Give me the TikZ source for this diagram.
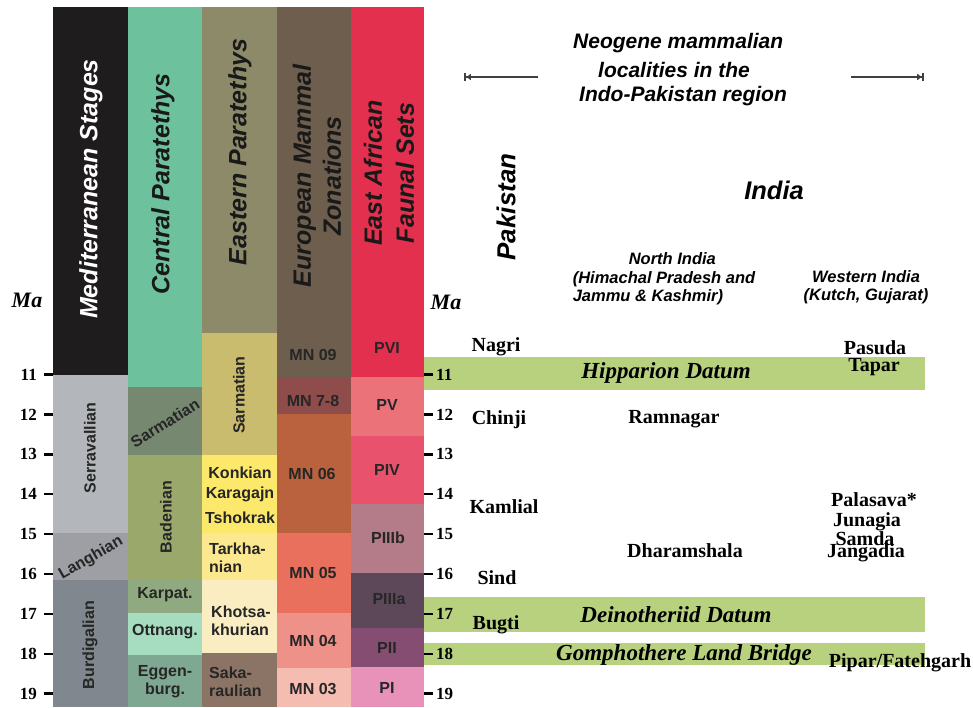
\documentclass[tikz,border=0pt]{standalone}
\usepackage{fontspec}
\setmainfont{Liberation Serif}
\setsansfont{Liberation Sans}
\usetikzlibrary{arrows.meta}

\definecolor{medblack}{HTML}{1E1C1D}
\definecolor{serrav}{HTML}{B3B6BA}
\definecolor{langh}{HTML}{9D9FA4}
\definecolor{burdig}{HTML}{81878E}
\definecolor{cteal}{HTML}{6DC29D}
\definecolor{csarm}{HTML}{778870}
\definecolor{baden}{HTML}{9AA86C}
\definecolor{karpat}{HTML}{8FAA80}
\definecolor{ottn}{HTML}{A6DCC0}
\definecolor{eggen}{HTML}{7EA891}
\definecolor{ehead}{HTML}{8C8A68}
\definecolor{esarm}{HTML}{C9BC6E}
\definecolor{konk}{HTML}{FCE96B}
\definecolor{tarkh}{HTML}{FBE88F}
\definecolor{khots}{HTML}{F9EDC1}
\definecolor{sakar}{HTML}{8B7465}
\definecolor{mnhead}{HTML}{6D5E4D}
\definecolor{mnsev}{HTML}{8E4C4A}
\definecolor{mnsix}{HTML}{B9623D}
\definecolor{mnfive}{HTML}{E9705D}
\definecolor{mnfour}{HTML}{EE9189}
\definecolor{mnthree}{HTML}{F5BDB1}
\definecolor{pvi}{HTML}{E3304F}
\definecolor{pv}{HTML}{EC727A}
\definecolor{piv}{HTML}{E9526D}
\definecolor{piiib}{HTML}{B47B89}
\definecolor{piiia}{HTML}{5D4859}
\definecolor{pii}{HTML}{854D71}
\definecolor{pi}{HTML}{E892B9}
\definecolor{datumgreen}{HTML}{B8D17F}

\begin{document}
\begin{tikzpicture}[x=1pt,y=-1pt]
	\tikzstyle{head} = [font=\sffamily\bfseries\itshape\fontsize{25}{30}\selectfont, text=black!90, align=center, rotate=90, inner sep=0pt]
	\tikzstyle{cell} = [font=\sffamily\bfseries\fontsize{16}{18}\selectfont, text=black!85, align=center, inner sep=0pt]
	\tikzstyle{maTick} = [line width=2.5pt]
	\tikzstyle{num} = [font=\bfseries\fontsize{17}{19}\selectfont, inner sep=0pt]
	\tikzstyle{ma} = [font=\bfseries\itshape\fontsize{22}{24}\selectfont, inner sep=0pt]
	\tikzstyle{site} = [font=\bfseries\fontsize{20}{22}\selectfont, inner sep=0pt]
	\tikzstyle{datum} = [font=\bfseries\itshape\fontsize{23}{25}\selectfont, inner sep=0pt]
	\tikzstyle{region} = [font=\sffamily\bfseries\itshape\fontsize{16.5}{18.5}\selectfont, align=center, inner sep=0pt]
	\tikzstyle{title} = [font=\sffamily\bfseries\itshape\fontsize{21}{26}\selectfont, anchor=west, inner sep=0pt]
	\tikzstyle{line} = [draw=black!75, line width=2.2pt]

	\useasboundingbox (0,0) rectangle (973,707);

	% Mediterranean stages
	\fill[medblack] (53,7) rectangle (128,375);
	\fill[serrav] (53,375) rectangle (128,533);
	\fill[langh] (53,533) rectangle (128,580);
	\fill[burdig] (53,580) rectangle (128,707);
	% Central Paratethys
	\fill[cteal] (128,7) rectangle (202,387);
	\fill[csarm] (128,387) rectangle (202,455);
	\fill[baden] (128,455) rectangle (202,580);
	\fill[karpat] (128,580) rectangle (202,613);
	\fill[ottn] (128,613) rectangle (202,655);
	\fill[eggen] (128,655) rectangle (202,707);
	% Eastern Paratethys
	\fill[ehead] (202,7) rectangle (277,333);
	\fill[esarm] (202,333) rectangle (277,455);
	\fill[konk] (202,455) rectangle (277,533);
	\fill[tarkh] (202,533) rectangle (277,580);
	\fill[khots] (202,580) rectangle (277,653);
	\fill[sakar] (202,653) rectangle (277,707);
	% European mammal zones
	\fill[mnhead] (277,7) rectangle (351,377);
	\fill[mnsev] (277,377) rectangle (351,414);
	\fill[mnsix] (277,414) rectangle (351,533);
	\fill[mnfive] (277,533) rectangle (351,613);
	\fill[mnfour] (277,613) rectangle (351,668);
	\fill[mnthree] (277,668) rectangle (351,707);
	% East African faunal sets
	\fill[pvi] (351,7) rectangle (424,377);
	\fill[pv] (351,377) rectangle (424,436);
	\fill[piv] (351,436) rectangle (424,504);
	\fill[piiib] (351,504) rectangle (424,573);
	\fill[piiia] (351,573) rectangle (424,628);
	\fill[pii] (351,628) rectangle (424,667);
	\fill[pi] (351,667) rectangle (424,707);

	% datum bands
	\fill[datumgreen] (424,357) rectangle (925,390);
	\fill[datumgreen] (424,597) rectangle (925,632);
	\fill[datumgreen] (424,643) rectangle (925,665);

	\node [head, text=white] (MedStages) at (91,189) {Mediterranean Stages};
	\node [head] (CentPara) at (163,184) {Central Paratethys};
	\node [head] (EastPara) at (240,152) {Eastern Paratethys};
	\node [head] (EuroZones) at (317,176) {European Mammal\\Zonations};
	\node [head, font=\sffamily\bfseries\itshape\fontsize{25}{32}\selectfont] (AfrSets) at (389,173) {East African\\Faunal Sets};

	\node [cell, rotate=90] (Serrav) at (90,448) {Serravallian};
	\node [cell, rotate=30] (Langh) at (91,558) {Langhian};
	\node [cell, rotate=90] (Burdig) at (90,645) {Burdigalian};
	\node [cell, rotate=32] (CSarm) at (165,423) {Sarmatian};
	\node [cell, rotate=90] (Baden) at (166,517) {Badenian};
	\node [cell] (Karpat) at (165,595) {Karpat.};
	\node [cell] (Ottnang) at (165,632) {Ottnang.};
	\node [cell] (Eggen) at (165,682) {Eggen-\\burg.};
	\node [cell, rotate=90] (ESarm) at (239,395) {Sarmatian};
	\node [cell] (Konkian) at (240,473) {Konkian};
	\node [cell] (Karagajn) at (240,494) {Karagajn};
	\node [cell] (Tshokrak) at (240,518) {Tshokrak};
	\node [cell, align=left, anchor=west] (Tarkh) at (209,558) {Tarkha-\\nian};
	\node [cell, align=left, anchor=west] (Khots) at (211,621) {Khotsa-\\khurian};
	\node [cell, align=left, anchor=west] (Sakar) at (209,682) {Saka-\\raulian};
	\node [cell] (MNnine) at (313,355) {MN 09};
	\node [cell] (MNseven) at (313,401) {MN 7-8};
	\node [cell] (MNsix) at (312,474) {MN 06};
	\node [cell] (MNfive) at (313,573) {MN 05};
	\node [cell] (MNfour) at (313,641) {MN 04};
	\node [cell] (MNthree) at (313,689) {MN 03};
	\node [cell] (PVI) at (387,348) {PVI};
	\node [cell] (PV) at (387,405) {PV};
	\node [cell] (PIV) at (387,470) {PIV};
	\node [cell] (PIIIb) at (388,538) {PIIIb};
	\node [cell] (PIIIa) at (389,599) {PIIIa};
	\node [cell] (PII) at (387,648) {PII};
	\node [cell] (PI) at (387,688) {PI};

	% Ma scales
	\node [ma] (MaLeft) at (27,300) {Ma};
	\node [ma] (MaRight) at (446,302) {Ma};
	\foreach \m in {11,...,19} {
		\draw [maTick] (44,{374.5+39.9*(\m-11)}) -- (53,{374.5+39.9*(\m-11)});
		\node [num, anchor=east] (lma\m) at (37,{374.5+39.9*(\m-11)}) {\m};
		\draw [maTick] (424,{374.5+39.9*(\m-11)}) -- (433,{374.5+39.9*(\m-11)});
		\node [num, anchor=west] (rma\m) at (436,{374.5+39.9*(\m-11)}) {\m};
	}

	% title and regions
	\node [title] (TitleA) at (573,43) {Neogene mammalian};
	\node [title] (TitleB) at (598,70) {localities in the};
	\node [title] (TitleC) at (579,96) {Indo-Pakistan region};
	\coordinate (LArrowEnd) at (464,77);
	\coordinate (LArrowStart) at (538,77);
	\coordinate (RArrowStart) at (851,77);
	\coordinate (RArrowEnd) at (924,77);
	\path [line, {Bar[width=8pt,line width=1.8pt]Latex[length=5pt,width=7pt]}-] (LArrowEnd) -- (LArrowStart);
	\path [line, -{Latex[length=5pt,width=7pt]Bar[width=8pt,line width=1.8pt]}] (RArrowStart) -- (RArrowEnd);

	\node [head, text=black, font=\sffamily\bfseries\itshape\fontsize{26}{30}\selectfont] (Pakistan) at (506,207) {Pakistan};
	\node [font=\sffamily\bfseries\itshape\fontsize{25.5}{30}\selectfont, inner sep=0pt] (India) at (774,190) {India};
	\node [region, align=left] (NorthIndia) at (664,279) {\hspace*{56pt}North India\\(Himachal Pradesh and\\Jammu \& Kashmir)};
	\node [region] (WestIndia) at (866,287) {Western India\\(Kutch, Gujarat)};

	% localities
	\node [site] (Nagri) at (496,347) {Nagri};
	\node [site] (Chinji) at (499,420) {Chinji};
	\node [site] (Kamlial) at (504,507) {Kamlial};
	\node [site] (Sind) at (497,578) {Sind};
	\node [site] (Bugti) at (496,625) {Bugti};
	\node [site] (Ramnagar) at (674,419) {Ramnagar};
	\node [site] (Dharamshala) at (685,551) {Dharamshala};
	\node [site] (Pasuda) at (875,348) {Pasuda};
	\node [site] (Tapar) at (874,367) {Tapar};
	\node [site] (Palasava) at (874,500) {Palasava*};
	\node [site] (Junagia) at (867,522) {Junagia};
	\node [site] (Samda) at (865,539) {Samda};
	\node [site] (Jangadia) at (866,553) {Jangadia};
	\node [site] (Pipar) at (900,663) {Pipar/Fatehgarh};

	\node [datum] (Hipparion) at (666,373) {Hipparion Datum};
	\node [datum] (Deino) at (676,615) {Deinotheriid Datum};
	\node [datum] (Gompho) at (684,655) {Gomphothere Land Bridge};
\end{tikzpicture}
\end{document}
